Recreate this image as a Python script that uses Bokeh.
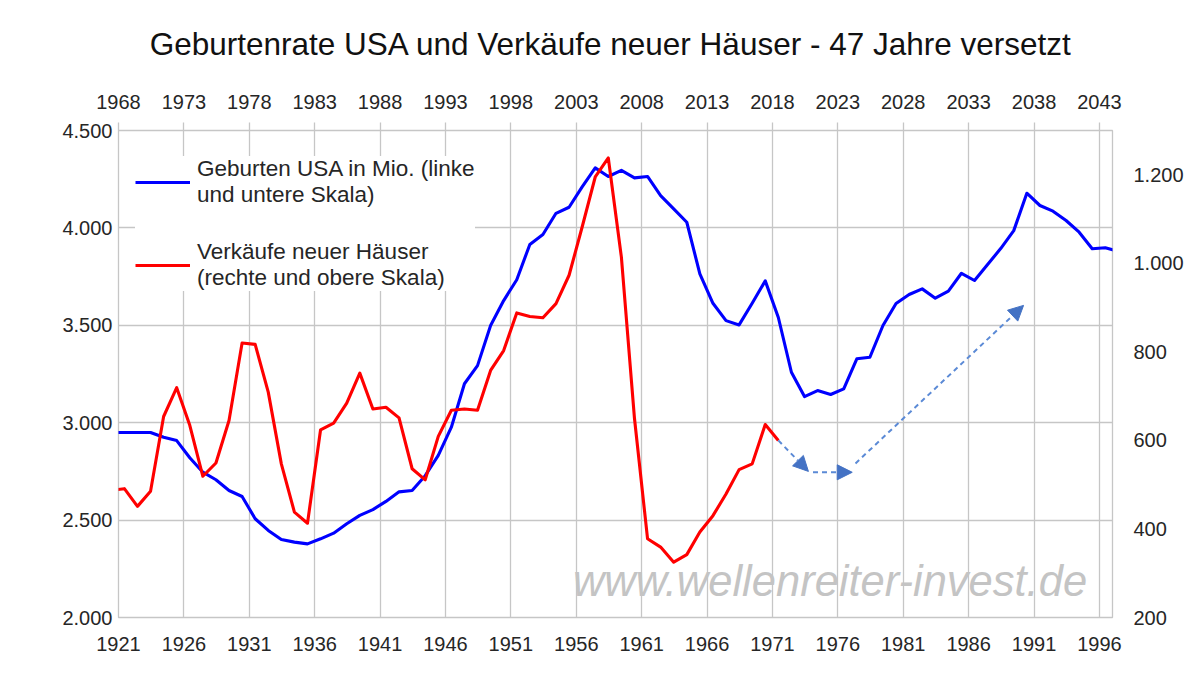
from bokeh.plotting import figure
from bokeh.models import (Range1d, LinearAxis, FixedTicker, CustomJSTickFormatter,
                          Legend, LegendItem, Label, Arrow, NormalHead, BasicTickFormatter)
from bokeh.embed import file_html
from bokeh.resources import INLINE
import numpy as np

# ---------------- data ----------------
birth_years = list(range(1920, 1998))
births = [2950, 2950, 2950, 2950, 2925, 2908, 2820, 2746, 2707, 2652,
          2621, 2507, 2447, 2400, 2387, 2378, 2404, 2433, 2481, 2524,
          2554, 2596, 2645, 2652, 2728, 2832, 2977, 3200, 3293, 3499,
          3627, 3734, 3915, 3966, 4075, 4106, 4211, 4308, 4264, 4295,
          4257, 4264, 4166, 4098, 4029, 3764, 3613, 3524, 3502, 3613,
          3728, 3540, 3259, 3134, 3165, 3145, 3174, 3328, 3336, 3499,
          3612, 3658, 3687, 3639, 3675, 3767, 3730, 3812, 3894, 3986,
          4178, 4115, 4086, 4038, 3978, 3893, 3898, 3880]

sales_years = list(range(1967, 2019))
sales = [487, 491, 451, 485, 654, 719, 634, 519, 549, 645,
         820, 817, 709, 547, 438, 413, 624, 639, 684, 752,
         671, 675, 651, 536, 511, 609, 668, 671, 668, 758,
         803, 888, 880, 877, 909, 973, 1082, 1195, 1238, 1014,
         650, 378, 359, 325, 342, 393, 430, 479, 534, 547,
         636, 600]

bottom_ticks = list(range(1921, 1997, 5))
top_ticks = list(range(1968, 2044, 5))
left_ticks = [2000, 2500, 3000, 3500, 4000, 4500]
right_ticks = [200, 400, 600, 800, 1000, 1200]

# forecast arrows (top / right scale)
arrow_x_start = [2018.45, 2021.1, 2024.35]
arrow_y_start = [600, 528, 548]
arrow_x_end = [2020.75, 2024.1, 2037.2]
arrow_y_end = [530, 528, 905]

title_text = "Geburtenrate USA und Verkäufe neuer Häuser -  47 Jahre versetzt"
legend_blue = "Geburten USA in Mio. (linke\nund untere Skala)"
legend_red = "Verkäufe neuer Häuser\n(rechte und obere Skala)"
watermark = "www.wellenreiter-invest.de"

POINT_OFFSET = 0.45  # yearly values plotted mid-year

FONT = "Liberation Sans"
TXT = "#262626"
GRID = "#C6C6C6"

p = figure(width=1190, height=678, output_backend="svg", toolbar_location=None,
           x_range=Range1d(1921, 1997), y_range=Range1d(2000, 4500),
           min_border_left=118, min_border_right=78, min_border_top=130,
           min_border_bottom=61, background_fill_color="white",
           border_fill_color="white")
p.extra_x_ranges = {"top": Range1d(1968, 2044)}
p.extra_y_ranges = {"right": Range1d(200, 1300)}

p.title.text = title_text
p.title.align = "center"
p.title.text_font = FONT
p.title.text_font_size = "31.5px"
p.title.text_font_style = "normal"
p.title.text_color = "#111111"
p.title.standoff = 32

p.outline_line_color = GRID
p.outline_line_width = 1.3

ger = CustomJSTickFormatter(code=r"return Math.round(tick).toString().replace(/\B(?=(\d{3})+(?!\d))/g, '.');")

def style_axis(ax):
    ax.axis_line_color = None
    ax.minor_tick_line_color = None
    ax.major_label_text_font = FONT
    ax.major_label_text_font_size = "20px"
    ax.major_label_text_color = TXT
    ax.major_tick_in = 0

# bottom axis
xa = p.xaxis[0]
xa.ticker = FixedTicker(ticks=bottom_ticks)
xa.formatter = BasicTickFormatter(use_scientific=False)
style_axis(xa)
xa.major_tick_out = 0
xa.major_label_standoff = 19

# left axis
ya = p.yaxis[0]
ya.ticker = FixedTicker(ticks=left_ticks)
ya.formatter = ger
style_axis(ya)
ya.major_tick_out = 0
ya.major_label_standoff = 6

# top axis
top_axis = LinearAxis(x_range_name="top", ticker=FixedTicker(ticks=top_ticks),
                      formatter=BasicTickFormatter(use_scientific=False))
style_axis(top_axis)
top_axis.major_tick_out = 8
top_axis.major_tick_line_color = GRID
top_axis.major_tick_line_width = 1.3
top_axis.major_label_standoff = 14
p.add_layout(top_axis, "above")

# invisible spacer between top axis and title
spacer = LinearAxis(x_range_name="top", ticker=FixedTicker(ticks=[2000]),
                    formatter=CustomJSTickFormatter(code="return ''"),
                    axis_line_color=None, major_tick_line_color=None,
                    minor_tick_line_color=None, major_tick_out=14, major_tick_in=0,
                    major_label_standoff=0, major_label_text_font_size="1px")
p.add_layout(spacer, "above")

# right axis
right_axis = LinearAxis(y_range_name="right", ticker=FixedTicker(ticks=right_ticks),
                        formatter=ger)
style_axis(right_axis)
right_axis.major_tick_out = 0
right_axis.major_label_standoff = 21
p.add_layout(right_axis, "right")

p.xgrid.ticker = FixedTicker(ticks=bottom_ticks)
p.ygrid.ticker = FixedTicker(ticks=left_ticks)
p.xgrid.grid_line_color = GRID
p.ygrid.grid_line_color = GRID
p.xgrid.grid_line_width = 1.3
p.ygrid.grid_line_width = 1.3

# watermark
p.add_layout(Label(x=1975.4, y=2185, text=watermark, text_align="center",
                   text_baseline="alphabetic", text_font=FONT, text_font_size="43.5px",
                   text_font_style="italic", text_color="#C4C4C4", level="underlay"))

bx = np.array(birth_years) + POINT_OFFSET
sx = np.array(sales_years) + POINT_OFFSET
r_blue = p.line(bx, births, line_color="#0000FF", line_width=3.1, line_join="round")
r_red = p.line(sx, sales, line_color="#FF0000", line_width=3.1, line_join="round",
               x_range_name="top", y_range_name="right")

for x0, y0, x1, y1 in zip(arrow_x_start, arrow_y_start, arrow_x_end, arrow_y_end):
    p.add_layout(Arrow(x_start=x0, y_start=y0, x_end=x1, y_end=y1,
                       x_range_name="top", y_range_name="right",
                       line_color="#5B8AD6", line_width=2, line_dash="5 4",
                       end=NormalHead(size=15, fill_color="#4472C4",
                                      line_color="#4472C4")))

legend = Legend(items=[LegendItem(label=legend_blue, renderers=[r_blue]),
                       LegendItem(label=legend_red, renderers=[r_red])],
                location=(17, 326), padding=17, spacing=31, glyph_width=55,
                label_standoff=7, label_text_font=FONT, label_text_font_size="22.5px",
                label_text_color=TXT, label_text_line_height=1.33,
                border_line_color=None, background_fill_color="white",
                background_fill_alpha=1.0, margin=0)
p.add_layout(legend)

open("out.html", "w").write(file_html(p, INLINE))
